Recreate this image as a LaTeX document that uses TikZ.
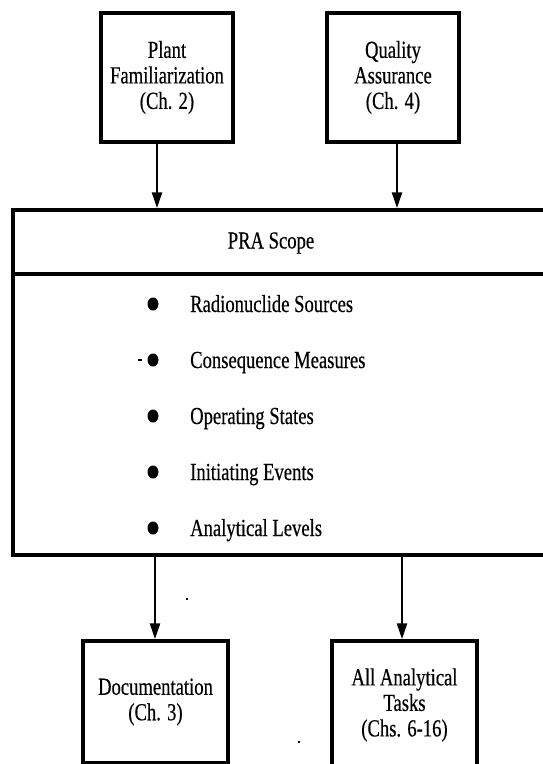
\documentclass[tikz,border=0pt]{standalone}
\usepackage{fontspec}
\setmainfont{Liberation Serif}[FakeStretch=0.76,FakeBold=0.4]
\usetikzlibrary{arrows.meta,shapes.geometric}
\begin{document}
\begin{tikzpicture}[x=1pt,y=-1pt,
  txt/.style={font=\fontsize{24.5}{25.5}\selectfont},
  box/.style={draw,line width=3.5pt,inner sep=0pt,align=center,txt},
  flow/.style={line width=2.5pt,-{Triangle[length=16pt,width=10pt]}},
  dot/.style={ellipse,fill,inner sep=0pt,minimum width=11pt,minimum height=13pt},
  item/.style={anchor=base west,inner sep=0pt,txt},
  speck/.style={fill,inner sep=0pt,minimum width=#1,minimum height=2pt},
  speck/.default=2.5pt]
\useasboundingbox (0,0) rectangle (542,764);

% input boxes
\node[box,minimum width=132pt,minimum height=129pt] (plant) at (167,77.5)
  {Plant\\Familiarization\\(Ch. 2)};
\node[box,minimum width=132pt,minimum height=129pt] (qa) at (393,77.5)
  {Quality\\Assurance\\(Ch. 4)};

% scope box (runs past the right edge)
\node[draw,line width=3.5pt,inner sep=0pt,minimum width=560pt,minimum height=345pt]
  (scope) at (293,382.5) {};
\node[txt] (hdr) at (271,243) {PRA Scope};
\coordinate (div) at (0,274);
\draw[line width=3.5pt] (scope.west |- div) -- (scope.east |- div);

% scope items
\foreach \name/\y/\label in {
  r1/304/Radionuclide Sources,
  r2/360/Consequence Measures,
  r3/416/Operating States,
  r4/472/Initiating Events,
  r5/528/Analytical Levels}{
  \node[dot] (\name b) at (153,\y) {};
  \node[item] (\name t) at (190,\y+8) {\label};
}

% output boxes
\node[box,minimum width=145pt,minimum height=122pt] (doc) at (155.5,702)
  {Documentation\\(Ch. 3)};
\node[box,minimum width=145pt,minimum height=128pt] (tasks) at (404.5,705)
  {All Analytical\\Tasks\\(Chs. 6-16)};

% connectors
\coordinate (c1) at (157,0);
\coordinate (c2) at (397,0);
\coordinate (c3) at (155,0);
\coordinate (c4) at (402,0);
\draw[flow] (plant.south -| c1) -- (scope.north -| c1);
\draw[flow] (qa.south -| c2) -- (scope.north -| c2);
\draw[flow] (scope.south -| c3) -- (doc.north -| c3);
\draw[flow] (scope.south -| c4) -- (tasks.north -| c4);

% stray marks
\node[speck=4pt] (s1) at (140,360) {};
\node[speck] (s2) at (187,599) {};
\node[speck] (s3) at (299,742) {};
\end{tikzpicture}
\end{document}
